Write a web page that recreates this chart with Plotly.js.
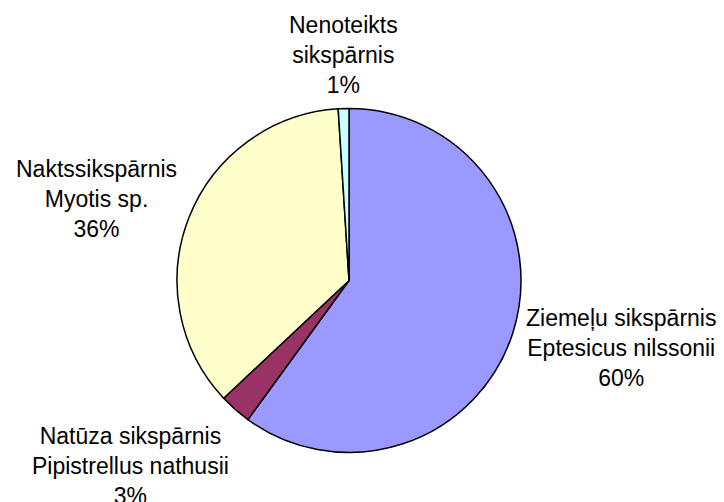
<!DOCTYPE html>
<html>
<head>
<meta charset="utf-8">
<script src="https://cdn.plot.ly/plotly-3.0.1.min.js"></script>
<style>html,body{margin:0;padding:0;background:#fff;}#chart{width:724px;height:502px;}</style>
</head>
<body>
<div id="chart"></div>
<script>
// Data
const categories = ["Ziemeļu sikspārnis<br>Eptesicus nilssonii", "Natūza sikspārnis<br>Pipistrellus nathusii", "Naktssikspārnis<br>Myotis sp.", "Nenoteikts<br>sikspārnis"];
const values = [60, 3, 36, 1];
const colors = ["#9999FF", "#993366", "#FFFFCC", "#CCFFFF"];

// Label anchor positions (pixels) – styling only
const labelPos = [[621, 348], [130, 466], [96, 199], [343, 55]];

const W = 724, H = 502;
const total = values.reduce((a, b) => a + b, 0);

const annotations = categories.map((c, i) => ({
  text: c + "<br>" + Math.round(values[i] / total * 100) + "%",
  x: labelPos[i][0] / W, y: 1 - labelPos[i][1] / H,
  xref: "paper", yref: "paper", xanchor: "center", yanchor: "middle",
  showarrow: false, align: "center",
  font: {family: "Liberation Sans, Arial, sans-serif", size: 23, color: "#000"}
}));

const cx = 349, cy = 280.5, r = 172;
const trace = {
  type: "pie",
  labels: categories,
  values: values,
  sort: false,
  direction: "clockwise",
  rotation: 0,
  textinfo: "none",
  hoverinfo: "none",
  marker: {colors: colors, line: {color: "#000", width: 1.5}},
  domain: {x: [(cx - r) / W, (cx + r) / W], y: [1 - (cy + r) / H, 1 - (cy - r) / H]}
};

Plotly.newPlot("chart", [trace], {
  width: W, height: H,
  margin: {l: 0, r: 0, t: 0, b: 0},
  showlegend: false,
  paper_bgcolor: "#fff",
  annotations: annotations
}, {displayModeBar: false, staticPlot: true});
</script>
</body>
</html>
